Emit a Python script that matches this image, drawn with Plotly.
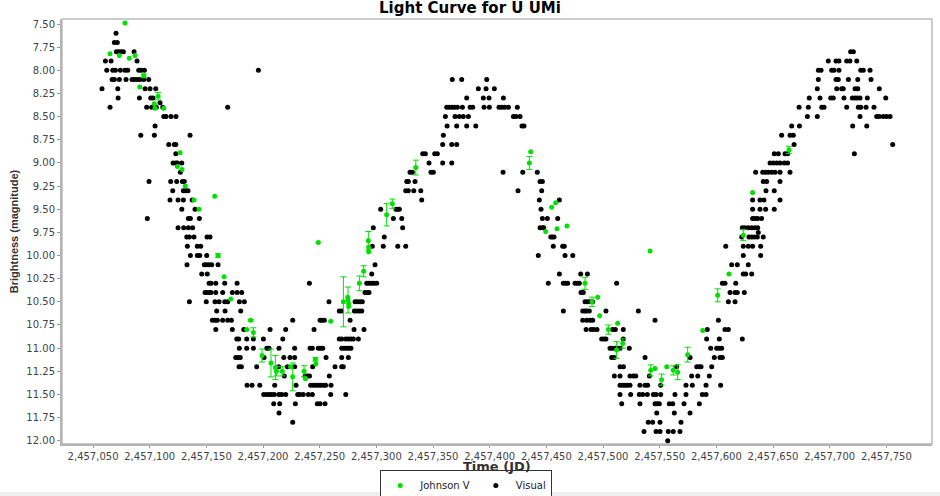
import plotly.graph_objects as go

JD_BASE = 2457000  # times below are JD - 2457000

# ---------------- Visual observations (black) ----------------
vis_jd = [
    70.3,
    68.8, 71.4,
    70.6, 72.7, 74.7, 76.8, 86.2, 718.5, 720.9,
    60.9, 65.9, 88.8, 698.8, 705.6, 708.2, 715.0, 717.9, 723.9,
    62.1, 67.4, 69.7, 74.1, 78.2, 80.6, 90.3, 92.4, 95.3, 195.9, 690.0, 692.4, 701.8, 703.8, 708.2, 727.4, 729.7, 735.6,
    66.8, 68.8, 73.2, 79.1, 84.4, 86.8, 89.1, 91.5, 94.7, 99.1, 367.0, 375.3, 397.4, 690.0, 705.6, 707.6, 716.5, 724.8, 736.5,
    57.9, 71.8, 95.9, 100.3, 105.3, 390.0, 396.8, 404.1, 689.1, 706.2, 710.6, 712.0, 722.4, 724.8, 743.8,
    72.1, 90.9, 100.9, 102.9, 379.7, 394.4, 399.4, 412.1, 682.0, 691.5, 700.9, 703.2, 712.6, 720.0, 722.4, 724.4, 726.8, 733.2, 749.5,
    109.1,
    65.0, 97.3, 101.7, 105.8, 111.5, 168.8, 362.1, 364.4, 366.8, 368.8, 371.5, 375.9, 382.7, 385.0, 395.0, 399.7, 408.2, 410.6, 413.3, 416.5, 424.4, 673.0, 681.2, 693.0, 695.0, 715.0, 725.3, 727.4, 732.1, 739.1,
    112.4, 114.4, 118.8, 123.2, 360.9, 369.4, 373.2, 376.7, 381.2, 420.9, 423.2, 426.8, 680.3, 689.1, 726.8, 741.5, 743.8, 747.3, 750.3, 753.3,
    104.7, 362.4, 370.9, 379.7, 387.7, 428.5, 430.3, 666.5, 673.3, 720.3, 732.7,
    92.1, 104.1, 135.6, 359.1, 657.6, 665.0, 667.9,
    116.8, 121.7, 123.0, 358.5, 366.5, 370.9, 668.6, 755.6,
    123.0, 340.9, 343.2, 351.5, 353.8, 651.1, 654.7, 660.6, 662.9, 721.8,
    120.6, 123.0, 124.4, 128.3, 346.5, 358.5, 366.5, 647.4, 650.3, 653.3, 656.2, 660.0, 662.9,
    127.0, 329.7, 331.7, 348.2, 350.3, 411.8, 429.2, 442.0, 634.7, 640.9, 643.5, 645.9, 648.8, 651.8, 656.2, 665.0,
    99.4, 118.5, 123.8, 128.8, 130.5, 326.8, 328.2, 334.1, 444.4, 446.5, 641.4, 644.4, 656.2,
    120.3, 129.7, 131.8, 133.8, 325.9, 328.2, 333.0, 339.2, 425.0, 445.9, 643.8, 651.1,
    117.9, 125.0, 129.7, 137.4, 340.0, 443.8, 461.5, 632.0, 638.5, 642.0, 656.2,
    128.3, 140.0, 303.8, 317.4, 318.5, 320.3, 445.3, 632.0, 638.5, 643.5, 651.1,
    97.9, 134.1, 135.9, 143.8, 315.0, 322.4, 446.5, 450.9, 460.0, 632.0, 634.1, 636.5, 640.0,
    125.0, 130.0, 134.1, 137.9, 297.3, 323.2, 444.4, 446.5, 447.7, 622.9, 625.3, 628.2, 631.2, 634.1, 636.5,
    637.0,
    132.7, 135.0, 139.1, 150.6, 153.2, 307.0, 453.9, 455.3, 456.8, 622.4, 628.8, 631.2, 633.5, 636.2, 641.4,
    133.2, 142.0, 145.0, 296.4, 306.1, 318.9, 325.9, 456.1, 464.4, 465.8, 608.3, 623.8, 628.2, 632.0, 639.1,
    135.9, 142.0, 144.2, 150.3, 442.9, 466.5, 473.3, 623.8, 639.1,
    132.9, 148.2, 150.3, 152.4, 154.7, 160.3, 298.8, 613.5, 618.5, 628.2,
    145.9, 150.8, 295.9, 461.5, 480.3, 486.2, 623.8, 625.9, 631.2,
    152.4, 154.1, 158.3, 166.2, 177.1, 240.9, 291.5, 293.5, 295.9, 297.9, 300.3, 451.7, 465.0, 467.1, 468.8, 475.3, 477.3, 479.1, 512.0, 605.3, 607.6, 617.1,
    148.8, 150.3, 152.4, 154.1, 158.3, 164.4, 172.9, 177.1, 181.2, 290.0, 292.4, 293.5, 480.6, 482.6, 612.1, 616.5, 618.5, 624.7,
    135.0, 149.9, 157.6, 161.2, 166.2, 168.8, 179.1, 183.5, 258.2, 281.2, 283.2, 285.6, 287.6, 484.1, 486.2, 488.5, 490.9, 610.6, 616.5,
    159.1, 166.5, 180.3, 267.3, 269.4, 280.6, 282.7, 284.9, 287.1, 465.0, 482.1, 484.1, 485.6, 487.9, 502.6, 531.2,
    155.3, 157.6, 159.7, 164.4, 168.8, 172.1, 226.2, 250.3, 252.3, 254.1, 276.8, 482.1, 485.6, 488.5, 490.9, 545.9, 601.8,
    158.3, 172.9, 183.0, 206.2, 220.0, 245.0, 280.3, 289.1, 485.1, 489.4, 491.8, 494.7, 508.5, 510.9, 517.9, 592.0, 607.6, 610.6,
    176.8, 178.5, 185.6, 191.5, 200.3, 217.4, 267.3, 269.4, 273.0, 275.3, 277.6, 279.7, 284.1, 498.8, 500.9, 502.6, 517.9, 591.4, 602.6, 622.9,
    179.1, 185.6, 191.5, 203.3, 205.3, 214.1, 227.9, 241.5, 243.5, 248.8, 250.9, 252.7, 269.4, 271.5, 273.8, 275.9, 277.6, 506.2, 508.2, 510.6, 512.6, 515.0, 523.2, 595.0, 600.3, 602.4, 604.7,
    175.9, 177.9, 179.9, 200.9, 218.3, 223.8, 227.9, 255.6, 269.4, 275.3, 507.6, 509.9, 537.1, 576.8, 598.2, 603.2, 605.3,
    178.8, 180.9, 194.4, 213.8, 221.5, 227.9, 243.8, 263.5, 269.4, 270.8, 515.0, 518.0, 565.0, 582.7, 584.7, 586.5, 595.9,
    218.8, 237.1, 239.1, 241.0, 258.5, 510.0, 515.0, 523.8, 526.8, 528.9, 540.9, 578.2, 583.6, 593.8,
    185.9, 190.3, 197.1, 210.3, 229.1, 242.0, 244.4, 246.5, 248.8, 250.9, 253.2, 255.3, 260.0, 515.0, 517.4, 519.4, 521.5, 523.8, 532.6, 537.1, 539.4, 550.9, 573.2, 578.8, 590.9, 603.8,
    200.6, 203.3, 205.6, 207.7, 210.0, 214.1, 216.5, 220.0, 230.6, 232.6, 235.5, 240.0, 243.5, 259.7, 273.0, 515.0, 524.4, 532.0, 535.0, 539.1, 544.4, 546.8, 550.9, 563.5, 573.2, 587.6, 590.9,
    209.4, 214.7, 228.5, 247.9, 250.3, 254.7, 516.5, 532.6, 545.9, 547.9, 549.7, 558.5, 561.5, 571.5, 585.0,
    214.1, 547.4, 562.9, 576.8,
    226.2, 539.9, 543.8, 550.3, 568.8,
    536.2, 546.8, 550.3, 557.6, 562.0, 567.9,
    557.1,
]

vis_mag = [
    7.6,
    7.7, 7.7,
    7.8, 7.8, 7.8, 7.8, 7.8, 7.8, 7.8,
    7.9, 7.9, 7.9, 7.9, 7.9, 7.9, 7.9, 7.9, 7.9,
    8.0, 8.0, 8.0, 8.0, 8.0, 8.0, 8.0, 8.0, 8.0, 8.0, 8.0, 8.0, 8.0, 8.0, 8.0, 8.0, 8.0, 8.0,
    8.1, 8.1, 8.1, 8.1, 8.1, 8.1, 8.1, 8.1, 8.1, 8.1, 8.1, 8.1, 8.1, 8.1, 8.1, 8.1, 8.1, 8.1, 8.1,
    8.2, 8.2, 8.2, 8.2, 8.2, 8.2, 8.2, 8.2, 8.2, 8.2, 8.2, 8.2, 8.2, 8.2, 8.2,
    8.3, 8.3, 8.3, 8.3, 8.3, 8.3, 8.3, 8.3, 8.3, 8.3, 8.3, 8.3, 8.3, 8.3, 8.3, 8.3, 8.3, 8.3, 8.3,
    8.35,
    8.4, 8.4, 8.4, 8.4, 8.4, 8.4, 8.4, 8.4, 8.4, 8.4, 8.4, 8.4, 8.4, 8.4, 8.4, 8.4, 8.4, 8.4, 8.4, 8.4, 8.4, 8.4, 8.4, 8.4, 8.4, 8.4, 8.4, 8.4, 8.4, 8.4,
    8.5, 8.5, 8.5, 8.5, 8.5, 8.5, 8.5, 8.5, 8.5, 8.5, 8.5, 8.5, 8.5, 8.5, 8.5, 8.5, 8.5, 8.5, 8.5, 8.5,
    8.6, 8.6, 8.6, 8.6, 8.6, 8.6, 8.6, 8.6, 8.6, 8.6, 8.6,
    8.7, 8.7, 8.7, 8.7, 8.7, 8.7, 8.7,
    8.8, 8.8, 8.8, 8.8, 8.8, 8.8, 8.8, 8.8,
    8.9, 8.9, 8.9, 8.9, 8.9, 8.9, 8.9, 8.9, 8.9, 8.9,
    9.0, 9.0, 9.0, 9.0, 9.0, 9.0, 9.0, 9.0, 9.0, 9.0, 9.0, 9.0, 9.0,
    9.1, 9.1, 9.1, 9.1, 9.1, 9.1, 9.1, 9.1, 9.1, 9.1, 9.1, 9.1, 9.1, 9.1, 9.1, 9.1,
    9.2, 9.2, 9.2, 9.2, 9.2, 9.2, 9.2, 9.2, 9.2, 9.2, 9.2, 9.2, 9.2,
    9.3, 9.3, 9.3, 9.3, 9.3, 9.3, 9.3, 9.3, 9.3, 9.3, 9.3, 9.3,
    9.4, 9.4, 9.4, 9.4, 9.4, 9.4, 9.4, 9.4, 9.4, 9.4, 9.4,
    9.5, 9.5, 9.5, 9.5, 9.5, 9.5, 9.5, 9.5, 9.5, 9.5, 9.5,
    9.6, 9.6, 9.6, 9.6, 9.6, 9.6, 9.6, 9.6, 9.6, 9.6, 9.6, 9.6, 9.6,
    9.7, 9.7, 9.7, 9.7, 9.7, 9.7, 9.7, 9.7, 9.7, 9.7, 9.7, 9.7, 9.7, 9.7, 9.7,
    9.75,
    9.8, 9.8, 9.8, 9.8, 9.8, 9.8, 9.8, 9.8, 9.8, 9.8, 9.8, 9.8, 9.8, 9.8, 9.8,
    9.9, 9.9, 9.9, 9.9, 9.9, 9.9, 9.9, 9.9, 9.9, 9.9, 9.9, 9.9, 9.9, 9.9, 9.9,
    10.0, 10.0, 10.0, 10.0, 10.0, 10.0, 10.0, 10.0, 10.0,
    10.1, 10.1, 10.1, 10.1, 10.1, 10.1, 10.1, 10.1, 10.1, 10.1,
    10.2, 10.2, 10.2, 10.2, 10.2, 10.2, 10.2, 10.2, 10.2,
    10.3, 10.3, 10.3, 10.3, 10.3, 10.3, 10.3, 10.3, 10.3, 10.3, 10.3, 10.3, 10.3, 10.3, 10.3, 10.3, 10.3, 10.3, 10.3, 10.3, 10.3, 10.3,
    10.4, 10.4, 10.4, 10.4, 10.4, 10.4, 10.4, 10.4, 10.4, 10.4, 10.4, 10.4, 10.4, 10.4, 10.4, 10.4, 10.4, 10.4,
    10.5, 10.5, 10.5, 10.5, 10.5, 10.5, 10.5, 10.5, 10.5, 10.5, 10.5, 10.5, 10.5, 10.5, 10.5, 10.5, 10.5, 10.5, 10.5,
    10.6, 10.6, 10.6, 10.6, 10.6, 10.6, 10.6, 10.6, 10.6, 10.6, 10.6, 10.6, 10.6, 10.6, 10.6, 10.6,
    10.7, 10.7, 10.7, 10.7, 10.7, 10.7, 10.7, 10.7, 10.7, 10.7, 10.7, 10.7, 10.7, 10.7, 10.7, 10.7, 10.7,
    10.8, 10.8, 10.8, 10.8, 10.8, 10.8, 10.8, 10.8, 10.8, 10.8, 10.8, 10.8, 10.8, 10.8, 10.8, 10.8, 10.8, 10.8,
    10.9, 10.9, 10.9, 10.9, 10.9, 10.9, 10.9, 10.9, 10.9, 10.9, 10.9, 10.9, 10.9, 10.9, 10.9, 10.9, 10.9, 10.9, 10.9, 10.9,
    11.0, 11.0, 11.0, 11.0, 11.0, 11.0, 11.0, 11.0, 11.0, 11.0, 11.0, 11.0, 11.0, 11.0, 11.0, 11.0, 11.0, 11.0, 11.0, 11.0, 11.0, 11.0, 11.0, 11.0, 11.0, 11.0, 11.0,
    11.1, 11.1, 11.1, 11.1, 11.1, 11.1, 11.1, 11.1, 11.1, 11.1, 11.1, 11.1, 11.1, 11.1, 11.1, 11.1, 11.1,
    11.2, 11.2, 11.2, 11.2, 11.2, 11.2, 11.2, 11.2, 11.2, 11.2, 11.2, 11.2, 11.2, 11.2, 11.2, 11.2, 11.2,
    11.3, 11.3, 11.3, 11.3, 11.3, 11.3, 11.3, 11.3, 11.3, 11.3, 11.3, 11.3, 11.3, 11.3,
    11.4, 11.4, 11.4, 11.4, 11.4, 11.4, 11.4, 11.4, 11.4, 11.4, 11.4, 11.4, 11.4, 11.4, 11.4, 11.4, 11.4, 11.4, 11.4, 11.4, 11.4, 11.4, 11.4, 11.4, 11.4, 11.4,
    11.5, 11.5, 11.5, 11.5, 11.5, 11.5, 11.5, 11.5, 11.5, 11.5, 11.5, 11.5, 11.5, 11.5, 11.5, 11.5, 11.5, 11.5, 11.5, 11.5, 11.5, 11.5, 11.5, 11.5, 11.5, 11.5, 11.5,
    11.6, 11.6, 11.6, 11.6, 11.6, 11.6, 11.6, 11.6, 11.6, 11.6, 11.6, 11.6, 11.6, 11.6, 11.6,
    11.7, 11.7, 11.7, 11.7,
    11.8, 11.8, 11.8, 11.8, 11.8,
    11.9, 11.9, 11.9, 11.9, 11.9, 11.9,
    12.0,
]

# ---------------- Johnson V observations (green) ----------------
jv_jd = [65.0, 73.2, 78.2, 82.0, 87.1, 91.2, 94.7, 104.1, 104.7, 107.4,
         112.4, 124.4, 126.8, 128.5, 131.4, 139.1, 143.5, 157.4, 160.3, 165.6,
         171.5, 185.6, 189.1, 191.5, 199.1, 207.0, 210.9, 211.8, 217.0, 224.3,
         226.2, 236.2, 237.4, 246.2, 246.6, 248.8, 259.7, 270.9, 274.7, 275.0,
         275.6, 275.6, 285.0, 288.8, 292.9, 293.2, 293.2, 309.1, 314.1, 334.8,
         435.0, 436.2, 449.4, 454.7, 458.2, 459.4, 468.2, 484.1, 490.3, 495.3,
         497.1, 504.7, 512.0, 512.9, 517.4, 541.5, 542.1, 545.9, 551.7, 556.2,
         562.0, 565.9, 574.7, 588.0, 601.2, 611.2, 623.8, 632.0, 664.1]
jv_mag = [7.82, 7.84, 7.49, 7.87, 7.84, 8.18, 8.06, 8.36, 8.41, 8.28,
          8.41, 9.04, 8.89, 9.07, 9.25, 9.40, 9.50, 9.36, 10.00, 10.23,
          10.47, 10.80, 10.70, 10.83, 11.08, 11.16, 11.21, 11.25, 11.25, 11.20,
          11.31, 11.25, 11.33, 11.12, 11.17, 9.86, 10.71, 10.50, 10.45, 10.48,
          10.52, 10.55, 10.30, 10.17, 9.84, 9.91, 9.96, 9.56, 9.44, 9.05,
          9.00, 8.88, 9.74, 9.48, 9.43, 9.71, 9.68, 10.30, 10.50, 10.45,
          10.65, 10.80, 11.02, 10.73, 10.95, 9.95, 11.24, 11.22, 11.34, 11.20,
          11.24, 11.26, 11.07, 10.81, 10.43, 10.20, 9.78, 9.32, 8.86]
jv_err = [0, 0, 0, 0, 0, 0, 0.02, 0, 0, 0.04,
          0, 0, 0, 0, 0, 0, 0, 0, 0.02, 0,
          0, 0, 0.01, 0.05, 0.07, 0.15, 0.13, 0.05, 0.05, 0,
          0.15, 0.06, 0, 0.02, 0, 0, 0, 0.27, 0, 0.14,
          0, 0, 0.08, 0.06, 0.10, 0, 0, 0.12, 0.05, 0.08,
          0.07, 0, 0, 0, 0, 0, 0, 0.065, 0.05, 0,
          0, 0.05, 0.09, 0, 0.05, 0, 0.06, 0, 0.06, 0,
          0.05, 0.08, 0.08, 0, 0.07, 0, 0.06, 0, 0.04]

GREEN = "#00e000"
FONT = "DejaVu Sans"

vx = [JD_BASE + t for t in vis_jd]
gx_e = [JD_BASE + t for t, e in zip(jv_jd, jv_err) if e > 0]
gy_e = [m for m, e in zip(jv_mag, jv_err) if e > 0]
ge_e = [e for e in jv_err if e > 0]
gx_n = [JD_BASE + t for t, e in zip(jv_jd, jv_err) if e == 0]
gy_n = [m for m, e in zip(jv_mag, jv_err) if e == 0]

fig = go.Figure()
fig.add_trace(go.Scatter(
    x=vx, y=vis_mag, mode="markers", name="Visual", legendrank=2,
    marker=dict(color="black", size=5, line=dict(width=0)),
))
fig.add_trace(go.Scatter(
    x=gx_n, y=gy_n, mode="markers", name="Johnson V", legendrank=1,
    legendgroup="jv", marker=dict(color=GREEN, size=5, line=dict(width=0)),
))
fig.add_trace(go.Scatter(
    x=gx_e, y=gy_e, mode="markers", name="Johnson V", showlegend=False,
    legendgroup="jv", marker=dict(color=GREEN, size=5, line=dict(width=0)),
    error_y=dict(type="data", array=ge_e, visible=True, color=GREEN,
                 thickness=1, width=3),
))

fig.update_layout(
    width=940, height=496,
    margin=dict(l=62, r=8, t=19, b=52, autoexpand=False),
    paper_bgcolor="white", plot_bgcolor="white",
    font=dict(family=FONT, size=10, color="#444"),
    title=dict(text="<b>Light Curve for U UMi</b>", x=0.5, xref="container",
               xanchor="center", y=1 - 8 / 496, yref="container",
               yanchor="middle", font=dict(family=FONT, size=15, color="black")),
    showlegend=True,
    legend=dict(orientation="h", xref="container", yref="container",
                x=0.496, xanchor="center", y=1 - 485.5 / 496, yanchor="middle",
                bordercolor="#333", borderwidth=1, bgcolor="white",
                font=dict(family=FONT, size=10, color="#222"),
                itemwidth=30, tracegroupgap=0),
    shapes=[
        dict(type="rect", xref="paper", yref="paper",
             x0=-0.2, x1=1.2, y0=-(492 - 444) / 425, y1=-0.3,
             fillcolor="#eeeeee", line=dict(width=0), layer="below"),
        dict(type="rect", xref="paper", yref="paper", x0=0, x1=1, y0=0, y1=1,
             line=dict(color="#999", width=1), layer="below"),
    ],
    annotations=[
        dict(text="<b>Time (JD)</b>", xref="paper", yref="paper",
             x=0.5, y=-(466.5 - 444) / 425, xanchor="center", yanchor="middle",
             showarrow=False, font=dict(family=FONT, size=13, color="#333")),
    ],
)

fig.update_xaxes(
    range=[JD_BASE + 22.6, JD_BASE + 790.3],
    tick0=JD_BASE + 50, dtick=50, tickformat=",d",
    showline=True, linecolor="#b4b4b4", linewidth=2, mirror=False,
    ticks="outside", ticklen=2, tickcolor="#999",
    showgrid=False, zeroline=False,
    tickfont=dict(family=FONT, size=10, color="#444"),
)
fig.update_yaxes(
    range=[12.035, 7.446],
    tick0=7.5, dtick=0.25, tickformat=".2f",
    showline=True, linecolor="#b4b4b4", linewidth=2, mirror=False,
    ticks="outside", ticklen=3, tickcolor="#999",
    showgrid=False, zeroline=False,
    tickfont=dict(family=FONT, size=10, color="#444"),
    title=dict(text="<b>Brightness (magnitude)</b>", standoff=6,
               font=dict(family="Liberation Sans", size=11, color="#333")),
)

fig.write_html("out.html", config={"displayModeBar": False},
               post_script="document.body.style.margin='0px';")
